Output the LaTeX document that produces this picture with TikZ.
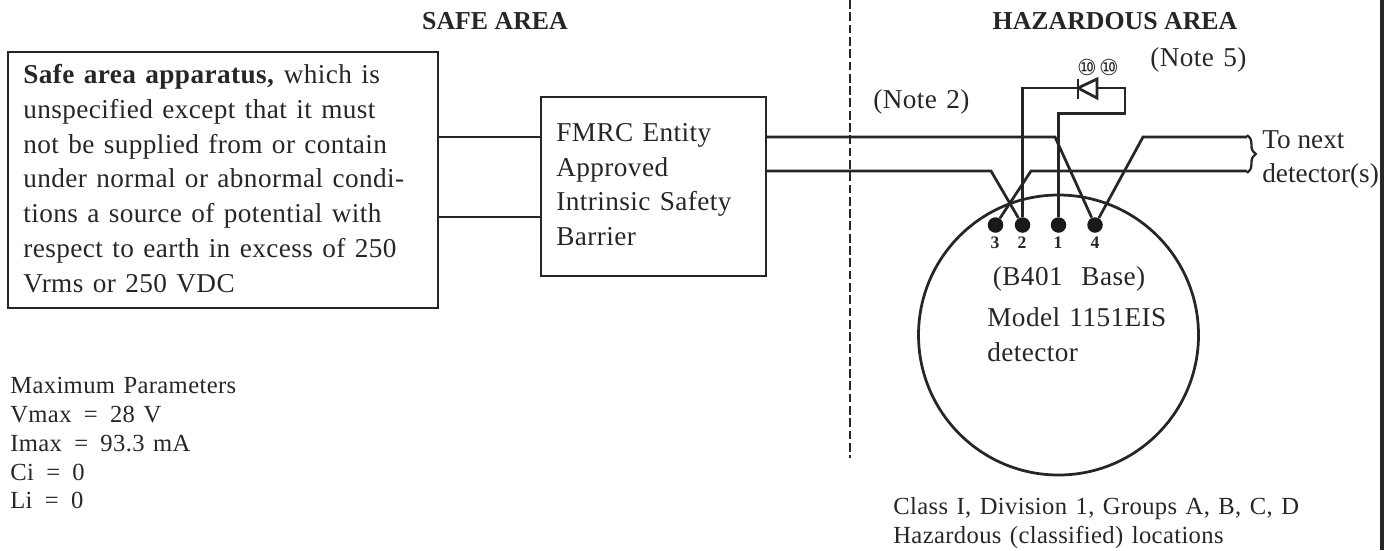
\documentclass[tikz,border=0pt]{standalone}
\usepackage{fontspec}
\setmainfont[LetterSpace=1.5, WordSpace=1.3]{Liberation Serif}
\newfontfamily\plainfont{Liberation Serif}
\newfontfamily\symbolfont{DejaVu Sans}
\usetikzlibrary{decorations.pathreplacing}
\tikzset{
	wire/.style={line width=0.55mm, color=black!85},
	pin/.style={circle, fill=black!90, inner sep=0pt, minimum size=3.1mm},
	pinlabel/.style={font=\fontsize{10}{10}\selectfont\plainfont\bfseries, color=black!85},
	areatitle/.style={font=\fontsize{14.7}{18}\selectfont\plainfont\bfseries, color=black!85},
	plain/.style={font=\fontsize{15.5}{19.8}\selectfont, color=black!85, align=left, inner sep=0pt},
	small/.style={font=\fontsize{14}{16.4}\selectfont, color=black!85, align=left, inner sep=0pt},
	tenmark/.style={font=\fontsize{12.5}{13}\selectfont\symbolfont, color=black!85, inner sep=0pt},
}
\begin{document}
\begin{tikzpicture}[x=0.2mm, y=-0.2mm]
	%%%%% START %%%%%
	\useasboundingbox (0, 0) rectangle (1392, 550);

	\node[areatitle] (safe) at (495, 21) {SAFE AREA};
	\node[areatitle] (hazard) at (1115, 21) {HAZARDOUS AREA};
	\node[plain, anchor=west] (noteFive) at (1150, 60) {(Note 5)};
	\node[plain, anchor=west] (noteTwo) at (873, 102) {(Note 2)};

	\draw[wire] (8, 52) rectangle (438, 308);
	\node[plain, anchor=north west] (apparatus) at (23, 64) {\textbf{Safe area apparatus,} which is\\unspecified except that it must\\not be supplied from or contain\\under normal or abnormal condi-\\tions a source of potential with\\respect to earth in excess of 250\\Vrms or 250 VDC};

	\draw[wire] (541, 97) rectangle (766, 276);
	\node[plain, anchor=north west] (barrier) at (556, 123) {FMRC Entity\\Approved\\Intrinsic Safety\\Barrier};

	\draw[wire] (438, 137) -- (541, 137);
	\draw[wire] (438, 217) -- (541, 217);

	% divider and right edge
	\draw[line width=0.45mm, color=black!85, dash pattern=on 5pt off 2pt] (850, 0) -- (850, 458);
	\draw[line width=0.7mm, color=black!85] (1382, 0) -- (1382, 550);

	% detector
	\draw[wire] (1058.5, 335) circle (140);
	\node[pin] (pinThree) at (995.5, 225) {};
	\node[pin] (pinTwo) at (1022.5, 225) {};
	\node[pin] (pinOne) at (1058.5, 225) {};
	\node[pin] (pinFour) at (1095, 225) {};
	\node[pinlabel] (numThree) at (995, 243) {3};
	\node[pinlabel] (numTwo) at (1022, 243) {2};
	\node[pinlabel] (numOne) at (1058, 243) {1};
	\node[pinlabel] (numFour) at (1095, 243) {4};
	\node[plain, align=center] (base) at (1069, 279) {(B401 \ Base)};
	\node[plain, anchor=north west] (model) at (987, 307) {Model 1151EIS\\detector};

	% field wiring
	\draw[wire] (766, 137) -- (1055, 137) -- (pinFour);
	\draw[wire] (766, 171) -- (991, 171) -- (pinTwo);
	\draw[wire] (pinThree) -- (1031, 171) -- (1247, 171);
	\draw[wire] (pinFour) -- (1143, 137) -- (1247, 137);

	% diode
	\draw[wire] (pinTwo) -- (1022.5, 88) -- (1078, 88);
	\draw[wire] (1078, 78.5) -- (1078, 98.5);
	\draw[wire] (1078, 88) -- (1097, 79) -- (1097, 98) -- cycle;
	\draw[wire] (1097, 88) -- (1125, 88) -- (1125, 113.5) -- (1058.5, 113.5) -- (pinOne);
	\node[tenmark] (tenA) at (1087, 67) {⑩};
	\node[tenmark] (tenB) at (1109, 67) {⑩};

	\draw[line width=0.45mm, color=black!85, decorate, decoration={brace, amplitude=5pt}] (1247, 135) -- (1247, 173);
	\node[plain, anchor=north west, font=\fontsize{15.5}{19.8}\selectfont\plainfont] (next) at (1262, 130) {To next\\detector(s)};

	\node[small, anchor=north west] (params) at (10, 377) {Maximum Parameters\\Vmax\,\,\,=\,\,\,28 V\\Imax\,\,\,=\,\,\,93.3 mA\\Ci\,\,\,=\,\,\,0\\Li\,\,\,=\,\,\,0};
	\node[small, anchor=north west] (locations) at (893, 497) {Class I, Division 1, Groups A, B, C, D\\Hazardous (classified) locations};
	%%%%% END %%%%%
\end{tikzpicture}
\end{document}
